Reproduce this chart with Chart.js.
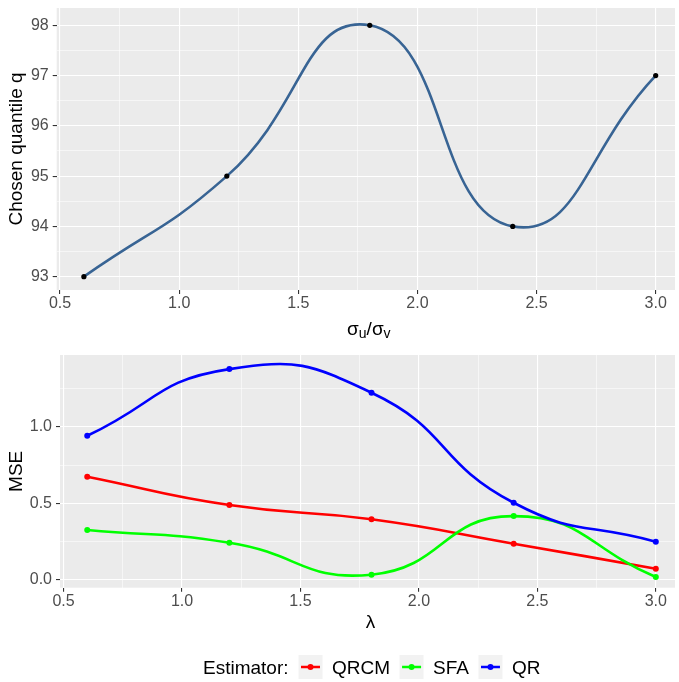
<!DOCTYPE html>
<html><head><meta charset="utf-8">
<script src="https://cdn.jsdelivr.net/npm/chart.js@4.4.1/dist/chart.umd.min.js"></script>
<style>
html,body{margin:0;padding:0;background:#fff;}
#wrap{position:relative;width:679px;height:682px;overflow:hidden;}
canvas{position:absolute;left:0;}
</style></head><body>
<div id="wrap">
<canvas id="topChart" width="679" height="340" style="top:0px"></canvas>
<canvas id="bottomChart" width="679" height="342" style="top:340px"></canvas>
</div>
<script>
// ---- data ----
const ratios = [0.6, 1.2, 1.8, 2.4, 3.0];
const chosenQuantile = [93, 95, 98, 94, 97];
const lambdas = [0.6, 1.2, 1.8, 2.4, 3.0];
const mseQRCM = [0.674, 0.489, 0.396, 0.237, 0.074];
const mseSFA = [0.326, 0.243, 0.035, 0.417, 0.020];
const mseQR = [0.941, 1.376, 1.222, 0.504, 0.250];
const estimatorNames = ['QRCM', 'SFA', 'QR'];
const estimatorColors = ['#FF0000', '#00FF00', '#0000FF'];
const xMajorTicks = [0.5, 1.0, 1.5, 2.0, 2.5, 3.0];
const xMinorTicks = [0.75, 1.25, 1.75, 2.25, 2.75];
const quantileMajorTicks = [93, 94, 95, 96, 97, 98];
const quantileMinorTicks = [93.5, 94.5, 95.5, 96.5, 97.5];
const mseMajorTicks = [0.0, 0.5, 1.0];
const mseMinorTicks = [0.25, 0.75, 1.25];

const FONT = '"Liberation Sans", Arial, Helvetica, sans-serif';

function makeAxis(major, minor, min, max, fixedSize, isX, decimals) {
  const minorSet = new Set(minor.map(v => v.toFixed(4)));
  const isMinor = v => minorSet.has(Number(v).toFixed(4));
  return {
    type: 'linear', min: min, max: max,
    border: { display: false },
    grid: {
      color: '#FFFFFF',
      lineWidth: c => (c.tick && isMinor(c.tick.value)) ? 0.55 : 1.1,
      tickColor: c => (c.tick && isMinor(c.tick.value)) ? 'rgba(0,0,0,0)' : '#333333',
      tickLength: 4, tickWidth: 1.1, drawTicks: true
    },
    ticks: {
      autoSkip: false, maxRotation: 0, minRotation: 0,
      padding: isX ? 1.5 : 4,
      color: '#4D4D4D',
      font: { family: FONT, size: 16, lineHeight: 1 },
      callback: v => isMinor(v) ? '' : Number(v).toFixed(decimals)
    },
    afterBuildTicks: s => {
      s.ticks = major.concat(minor).sort((a, b) => a - b).map(v => ({ value: v }));
    },
    afterFit: s => {
      if (isX) s.height = fixedSize; else s.width = fixedSize;
      s.paddingTop = 0; s.paddingBottom = 0; s.paddingLeft = 0; s.paddingRight = 0;
    }
  };
}

const panelBg = {
  id: 'panelBg',
  beforeDraw(chart) {
    const a = chart.chartArea, ctx = chart.ctx;
    ctx.save();
    ctx.fillStyle = '#FFFFFF';
    ctx.fillRect(0, 0, chart.width, chart.height);
    ctx.fillStyle = '#EBEBEB';
    ctx.fillRect(a.left, a.top, a.right - a.left, a.bottom - a.top);
    ctx.restore();
  }
};

function drawYTitle(ctx, text, x, y) {
  ctx.save();
  ctx.translate(x, y);
  ctx.rotate(-Math.PI / 2);
  ctx.fillStyle = '#000000';
  ctx.font = '19px ' + FONT;
  ctx.textAlign = 'center';
  ctx.textBaseline = 'alphabetic';
  ctx.fillText(text, 0, 0);
  ctx.restore();
}

const topTitles = {
  id: 'topTitles',
  afterDraw(chart) {
    const ctx = chart.ctx, a = chart.chartArea;
    drawYTitle(ctx, 'Chosen quantile q', 22, (a.top + a.bottom) / 2);
    // x title: sigma_u / sigma_v
    const parts = [
      { t: 'σ', f: '19px ' + FONT, dy: 0 },
      { t: 'u', f: '14px ' + FONT, dy: 3 },
      { t: '/', f: '19px ' + FONT, dy: 0 },
      { t: 'σ', f: '19px ' + FONT, dy: 0 },
      { t: 'v', f: '14px ' + FONT, dy: 3 }
    ];
    ctx.save();
    let total = 0;
    parts.forEach(p => { ctx.font = p.f; p.w = ctx.measureText(p.t).width; total += p.w; });
    let x = (a.left + a.right) / 2 + 3 - total / 2;
    const base = 335;
    ctx.fillStyle = '#000000';
    ctx.textBaseline = 'alphabetic';
    ctx.textAlign = 'left';
    parts.forEach(p => { ctx.font = p.f; ctx.fillText(p.t, x, base + p.dy); x += p.w; });
    ctx.restore();
  }
};

const bottomTitles = {
  id: 'bottomTitles',
  afterDraw(chart) {
    const ctx = chart.ctx, a = chart.chartArea;
    drawYTitle(ctx, 'MSE', 22, (a.top + a.bottom) / 2);
    ctx.save();
    ctx.fillStyle = '#000000';
    ctx.font = '19px ' + FONT;
    ctx.textAlign = 'center';
    ctx.textBaseline = 'alphabetic';
    ctx.fillText('λ', (a.left + a.right) / 2 + 3, 288);
    // legend
    const cy = 327;
    const base = 334;
    let x = 203;
    ctx.textAlign = 'left';
    ctx.fillText('Estimator:', x, base);
    x += ctx.measureText('Estimator:').width + 10;
    estimatorNames.forEach((name, i) => {
      ctx.fillStyle = '#F2F2F2';
      ctx.fillRect(x, cy - 12, 24, 24);
      ctx.strokeStyle = estimatorColors[i];
      ctx.lineWidth = 2.5;
      ctx.beginPath();
      ctx.moveTo(x + 2.5, cy); ctx.lineTo(x + 21.5, cy);
      ctx.stroke();
      ctx.fillStyle = estimatorColors[i];
      ctx.beginPath();
      ctx.arc(x + 12, cy, 3, 0, Math.PI * 2);
      ctx.fill();
      x += 24 + 9.5;
      ctx.fillStyle = '#000000';
      ctx.fillText(name, x, base);
      x += ctx.measureText(name).width + 9.5;
    });
    ctx.restore();
  }
};

const pts = (xs, ys) => xs.map((x, i) => ({ x: x, y: ys[i] }));

new Chart(document.getElementById('topChart'), {
  type: 'line',
  data: {
    datasets: [{
      data: pts(ratios, chosenQuantile),
      borderColor: '#386494',
      borderWidth: 2.6,
      tension: 0.5,
      pointRadius: 2.6,
      pointBorderWidth: 0,
      pointBackgroundColor: '#000000',
      fill: false
    }]
  },
  options: {
    responsive: false, animation: false, devicePixelRatio: 1,
    layout: { padding: { top: 8, right: 2, left: 0, bottom: 0 } },
    plugins: { legend: { display: false }, tooltip: { enabled: false } },
    scales: {
      x: makeAxis(xMajorTicks, xMinorTicks, 0.486, 3.081, 50, true, 1),
      y: makeAxis(quantileMajorTicks, quantileMinorTicks, 92.735, 98.344, 56.7, false, 0)
    }
  },
  plugins: [panelBg, topTitles]
});

const seriesValues = [mseQRCM, mseSFA, mseQR];
new Chart(document.getElementById('bottomChart'), {
  type: 'line',
  data: {
    datasets: seriesValues.map((vals, i) => ({
      label: estimatorNames[i],
      data: pts(lambdas, vals),
      borderColor: estimatorColors[i],
      pointBackgroundColor: estimatorColors[i],
      borderWidth: 2.6,
      tension: 0.5,
      pointRadius: 3,
      pointBorderWidth: 0,
      fill: false,
      order: 3 - i
    }))
  },
  options: {
    responsive: false, animation: false, devicePixelRatio: 1,
    layout: { padding: { top: 15, right: 2, left: 0, bottom: 0 } },
    plugins: { legend: { display: false }, tooltip: { enabled: false } },
    scales: {
      x: makeAxis(xMajorTicks, xMinorTicks, 0.485, 3.081, 94.3, true, 1),
      y: makeAxis(mseMajorTicks, mseMinorTicks, -0.05, 1.468, 60, false, 1)
    }
  },
  plugins: [panelBg, bottomTitles]
});
</script>
</body></html>
